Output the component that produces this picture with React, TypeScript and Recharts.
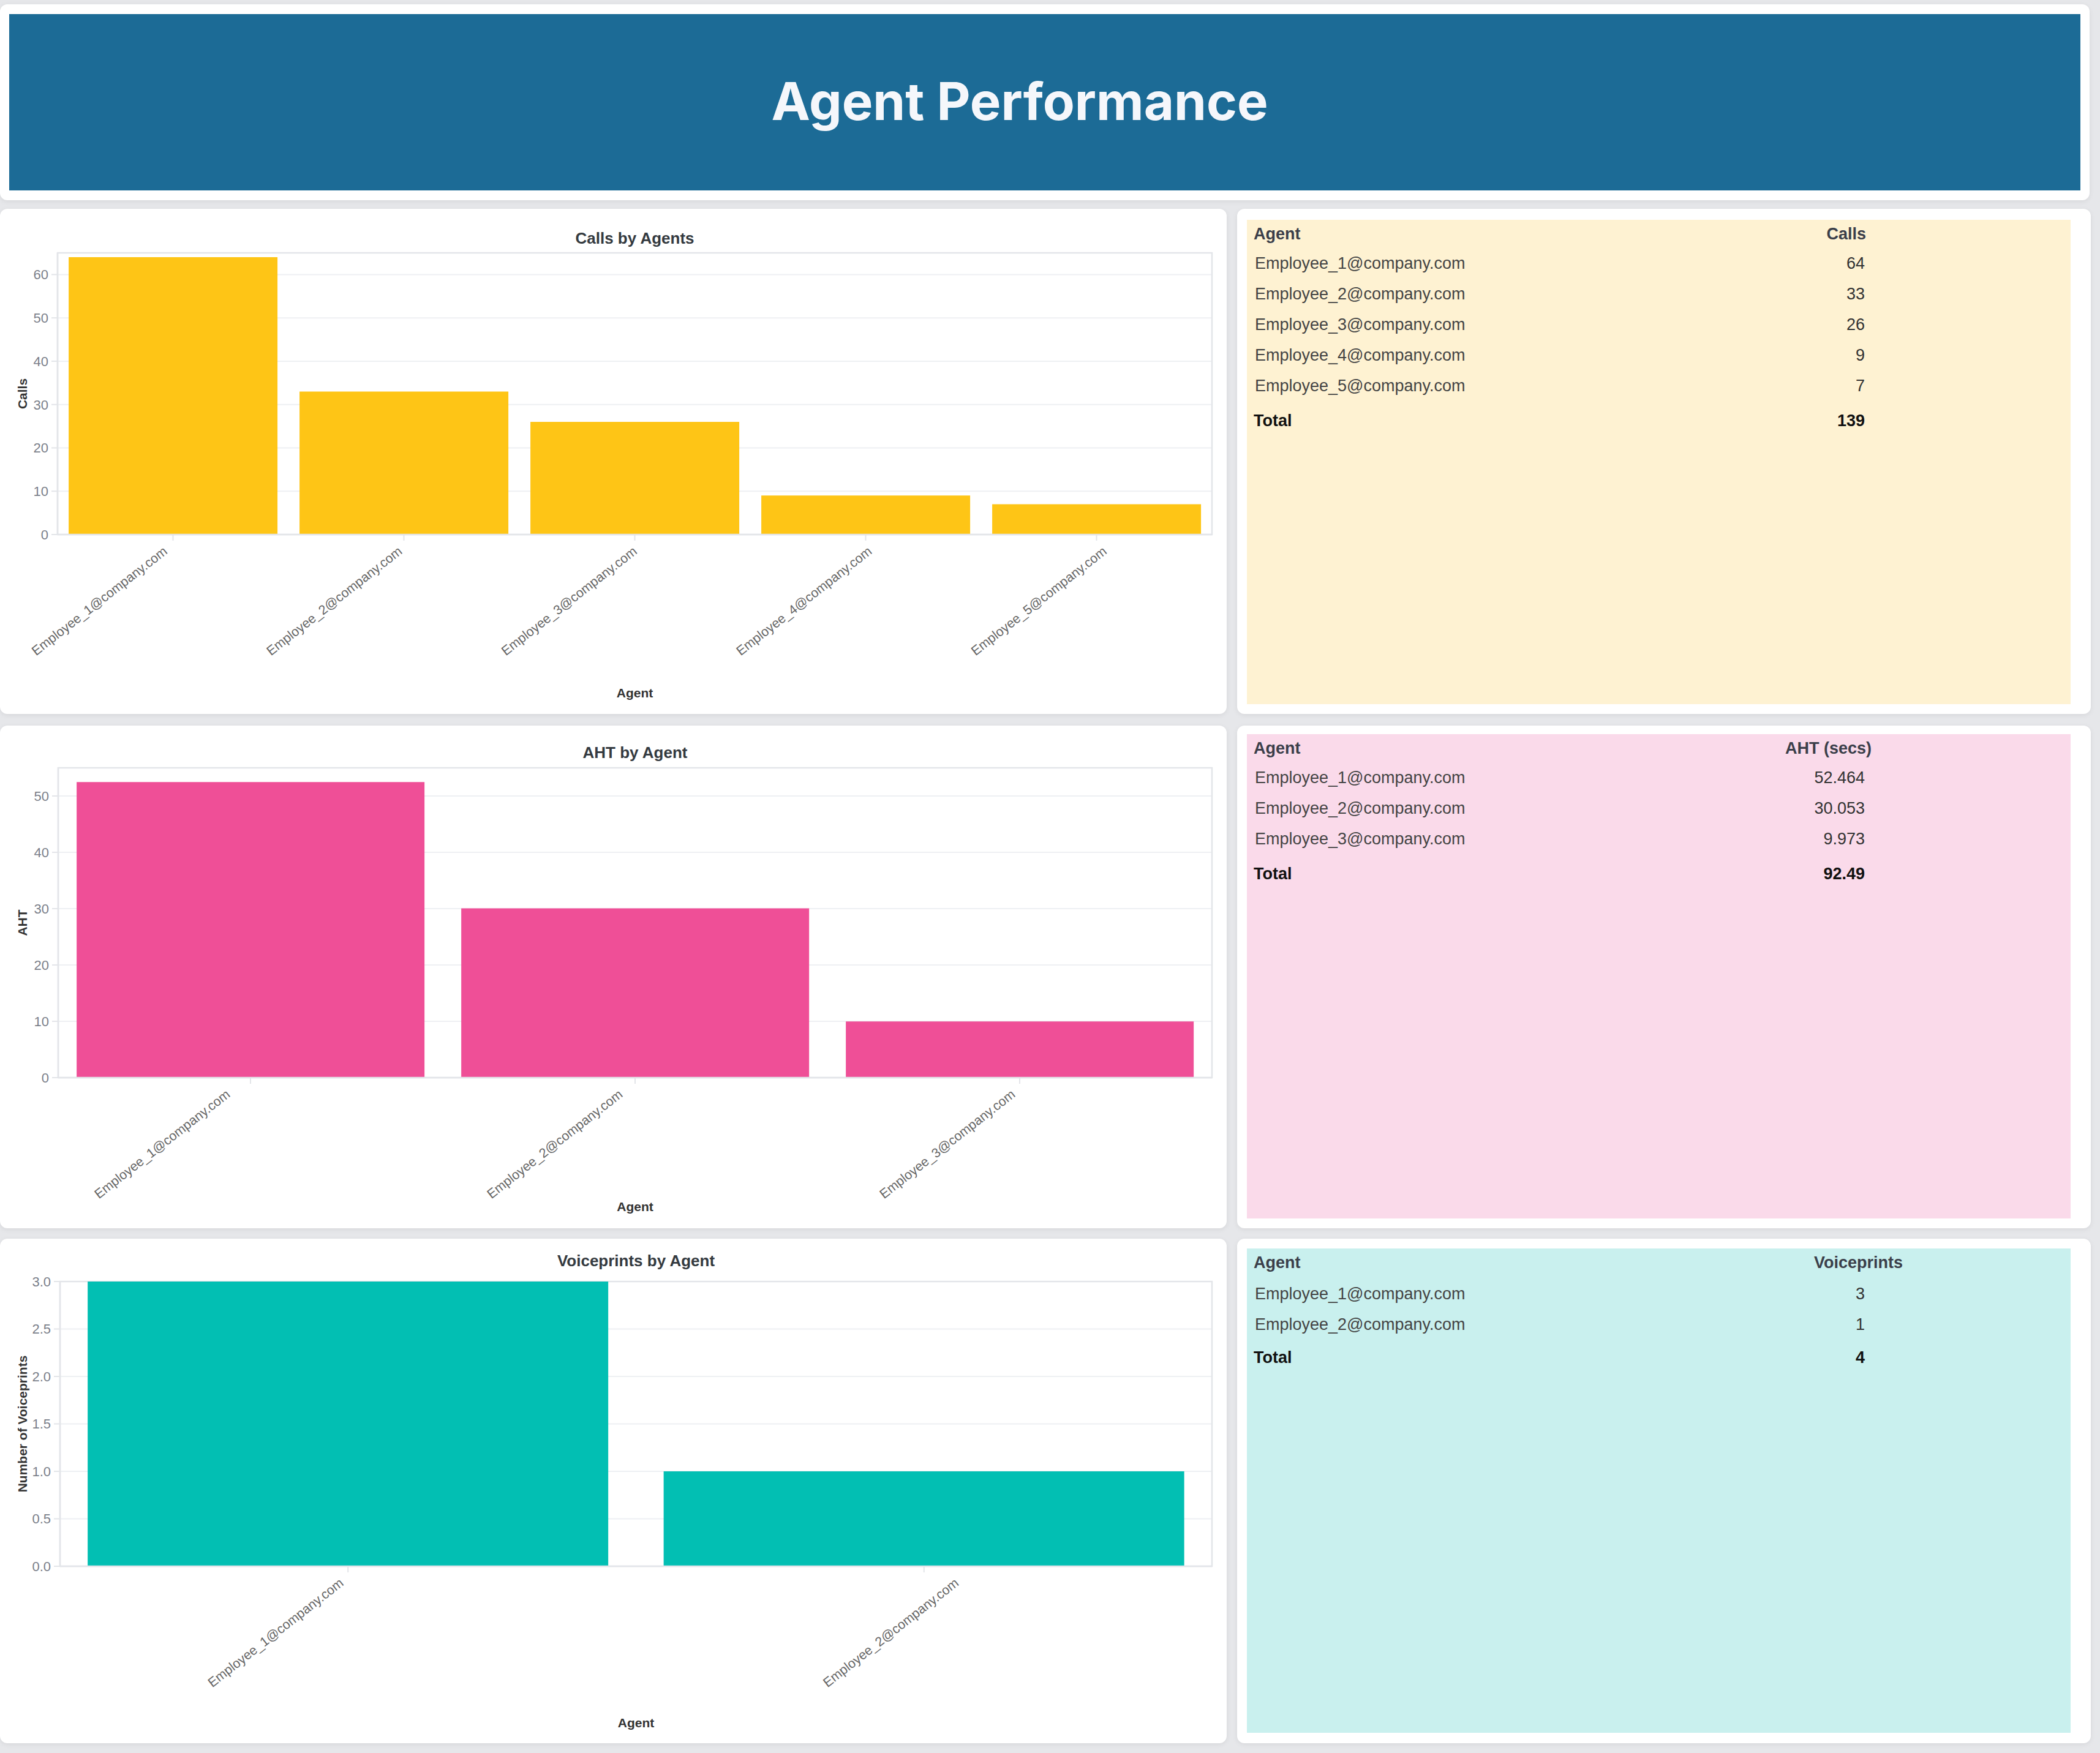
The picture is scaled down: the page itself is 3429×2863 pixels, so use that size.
import React from "react";
import { BarChart, Bar, XAxis, YAxis, CartesianGrid, ReferenceArea } from "recharts";

// agents and their stats
const agents = [
  "Employee_1@company.com",
  "Employee_2@company.com",
  "Employee_3@company.com",
  "Employee_4@company.com",
  "Employee_5@company.com",
];
const calls = [64, 33, 26, 9, 7];

const ahtAgents = agents.slice(0, 3);
const ahtSecs = [52.464, 30.053, 9.973];

const vpAgents = agents.slice(0, 2);
const voiceprints = [3, 1];

const callTicks = [0, 10, 20, 30, 40, 50, 60];
const ahtTicks = [0, 10, 20, 30, 40, 50];
const vpTicks = [0, 0.5, 1, 1.5, 2, 2.5, 3];

const FONT = '"Liberation Sans", Arial, Helvetica, sans-serif';
const LINE = "#e3e5e9";
const CARD_W = 2003;

const toRows = (names: string[], vals: number[]) => names.map((agent, i) => ({ agent, value: vals[i] }));

// rotated category label; labels drift a little to the right along the axis
function AgentTick(props: any) {
  const { x, y, payload, index, shift = [0, 0] } = props;
  const tx = x - 8 + shift[0] + shift[1] * index;
  const ty = y + 18;
  return (
    <text x={tx} y={ty} transform={`rotate(-38, ${tx}, ${ty})`} textAnchor="end" fill="#666" fontSize={21.5} fontFamily={FONT}>
      {payload.value}
    </text>
  );
}

type ChartProps = {
  top: number;
  height: number;
  title: string;
  titleY: number;
  names: string[];
  values: number[];
  color: string;
  yLabel: string;
  domain: [number, number];
  ticks: number[];
  fmt?: (v: number) => string;
  plotTop: number;
  plotBottom: number;
  yWidth: number;
  xTitleOffset: number;
  labelShift: [number, number];
};

function BarCard(p: ChartProps) {
  const data = toRows(p.names, p.values);
  return (
    <div style={{ position: "absolute", left: 0, top: p.top, width: CARD_W, height: p.height, background: "#fff", borderRadius: 12, boxShadow: "0 2px 8px rgba(0,0,0,0.07)" }}>
      <div
        style={{
          position: "absolute",
          left: p.yWidth,
          width: CARD_W - 24 - p.yWidth,
          top: p.titleY - 15,
          height: 30,
          lineHeight: "30px",
          textAlign: "center",
          fontFamily: FONT,
          fontWeight: 700,
          fontSize: 26,
          color: "#343a40",
        }}
      >
        {p.title}
      </div>
      <BarChart width={CARD_W} height={p.height} data={data} margin={{ top: p.plotTop, right: 24, bottom: 0, left: 0 }} barCategoryGap="4.8%">
        <CartesianGrid vertical={false} stroke="#eef0f3" strokeWidth={2} />
        <XAxis
          dataKey="agent"
          interval={0}
          height={p.height - p.plotBottom}
          tick={<AgentTick shift={p.labelShift} />}
          tickSize={10}
          tickLine={{ stroke: LINE, strokeWidth: 2 }}
          axisLine={{ stroke: LINE, strokeWidth: 2.5 }}
          label={{ value: "Agent", position: "insideBottom", offset: p.xTitleOffset, fill: "#333", fontWeight: 700, fontSize: 21, fontFamily: FONT }}
        />
        <YAxis
          type="number"
          width={p.yWidth}
          domain={p.domain}
          ticks={p.ticks}
          tickFormatter={p.fmt}
          tickSize={10}
          tickMargin={5}
          tick={{ fill: "#7b7f8a", fontSize: 22, fontFamily: FONT }}
          tickLine={{ stroke: LINE, strokeWidth: 2 }}
          axisLine={{ stroke: LINE, strokeWidth: 2.5 }}
          label={{ value: p.yLabel, angle: -90, position: "insideLeft", offset: 37, fill: "#333", fontWeight: 700, fontSize: 21, fontFamily: FONT, style: { textAnchor: "middle" } }}
        />
        <ReferenceArea x1={p.names[0]} x2={p.names[p.names.length - 1]} y1={p.domain[0]} y2={p.domain[1]} fill="none" stroke={LINE} strokeWidth={2.5} />
        <Bar dataKey="value" fill={p.color} isAnimationActive={false} />
      </BarChart>
    </div>
  );
}

type TableProps = {
  top: number;
  height: number;
  panelTop: number;
  bg: string;
  header: string;
  headerRight: number;
  rowGap: number;
  names: string[];
  values: string[];
  total: string;
};

function StatsTable(p: TableProps) {
  const cell: React.CSSProperties = { position: "absolute", whiteSpace: "nowrap" };
  const valueRight = 336;
  return (
    <>
      <div style={{ position: "absolute", left: 2020, top: p.top, width: 1394, height: p.height, background: "#fff", borderRadius: 12, boxShadow: "0 2px 8px rgba(0,0,0,0.07)" }} />
      <div style={{ position: "absolute", left: 2036, top: p.panelTop, width: 1345, height: 791, background: p.bg, fontFamily: FONT, fontSize: 27 }}>
        <div style={{ position: "relative", height: 46 + p.rowGap, lineHeight: "46px", fontWeight: 700, color: "#3b3f4a" }}>
          <span style={{ ...cell, left: 11 }}>Agent</span>
          <span style={{ ...cell, right: p.headerRight }}>{p.header}</span>
        </div>
        {p.names.map((n, i) => (
          <div key={n} style={{ position: "relative", height: 50, lineHeight: "50px", color: "#444" }}>
            <span style={{ ...cell, left: 13 }}>{n}</span>
            <span style={{ ...cell, right: valueRight, color: "#333" }}>{p.values[i]}</span>
          </div>
        ))}
        <div style={{ position: "relative", marginTop: 7 - p.rowGap, height: 50, lineHeight: "50px", fontWeight: 700, color: "#111" }}>
          <span style={{ ...cell, left: 11 }}>Total</span>
          <span style={{ ...cell, right: valueRight }}>{p.total}</span>
        </div>
      </div>
    </>
  );
}

const sum = (a: number[]) => Number(a.reduce((s, v) => s + v, 0).toFixed(3));

export default function App() {
  return (
    <div style={{ position: "relative", width: 3429, height: 2863, background: "#e6e7ea", overflow: "hidden" }}>
      <style>{"body{margin:0}"}</style>

      {/* header banner */}
      <div style={{ position: "absolute", left: 0, top: 7, width: 3412, height: 320, background: "#fff", borderRadius: 12, boxShadow: "0 2px 8px rgba(0,0,0,0.07)" }}>
        <div style={{ position: "absolute", left: 15, top: 16, width: 3382, height: 288, background: "#1c6b96" }} />
        <div
          style={{
            position: "absolute",
            left: 0,
            width: 3330,
            top: 116,
            height: 86,
            lineHeight: "86px",
            textAlign: "center",
            fontFamily: "Inter, sans-serif",
            fontWeight: 700,
            fontSize: 85,
            color: "#f5f7fb",
          }}
        >
          Agent Performance
        </div>
      </div>

      <BarCard
        top={341}
        height={825}
        title="Calls by Agents"
        titleY={48}
        names={agents}
        values={calls}
        color="#fec516"
        yLabel="Calls"
        domain={[0, 65]}
        ticks={callTicks}
        plotTop={72}
        plotBottom={532}
        yWidth={94}
        xTitleOffset={27}
        labelShift={[0, 6.5]}
      />
      <StatsTable
        top={341}
        height={825}
        panelTop={359}
        bg="#fef2d2"
        header="Calls"
        headerRight={334}
        rowGap={0}
        names={agents}
        values={calls.map(String)}
        total={String(sum(calls))}
      />

      <BarCard
        top={1185}
        height={821}
        title="AHT by Agent"
        titleY={44}
        names={ahtAgents}
        values={ahtSecs}
        color="#ef4f97"
        yLabel="AHT"
        domain={[0, 55]}
        ticks={ahtTicks}
        plotTop={69}
        plotBottom={575}
        yWidth={95}
        xTitleOffset={28}
        labelShift={[-24, 13]}
      />
      <StatsTable
        top={1185}
        height={821}
        panelTop={1199}
        bg="#fadaea"
        header="AHT (secs)"
        headerRight={325}
        rowGap={0}
        names={ahtAgents}
        values={ahtSecs.map(String)}
        total={String(sum(ahtSecs))}
      />

      <BarCard
        top={2023}
        height={824}
        title="Voiceprints by Agent"
        titleY={36}
        names={vpAgents}
        values={voiceprints}
        color="#02bfb3"
        yLabel="Number of Voiceprints"
        domain={[0, 3]}
        ticks={vpTicks}
        fmt={(v) => v.toFixed(1)}
        plotTop={70}
        plotBottom={535}
        yWidth={98}
        xTitleOffset={26}
        labelShift={[2, 64]}
      />
      <StatsTable
        top={2023}
        height={824}
        panelTop={2039}
        bg="#c9f0ee"
        header="Voiceprints"
        headerRight={274}
        rowGap={3}
        names={vpAgents}
        values={voiceprints.map(String)}
        total={String(sum(voiceprints))}
      />
    </div>
  );
}
